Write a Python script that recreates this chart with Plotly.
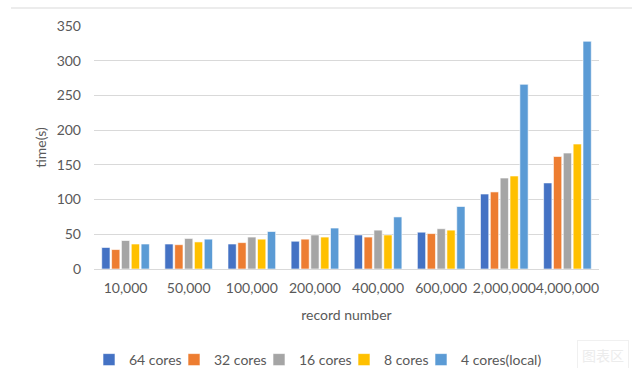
import plotly.graph_objects as go

# Record counts on the x axis
record_labels = ["10,000", "50,000", "100,000", "200,000", "400,000",
                 "600,000", "2,000,000", "4,000,000"]

# Run time in seconds for each cluster configuration
cores_64 = [31, 36, 36, 40, 49, 53, 108, 124]
cores_32 = [28, 35, 38, 43, 46, 51, 111, 162]
cores_16 = [41, 44, 46, 49, 56, 58, 131, 167]
cores_8 = [36, 39, 43, 46, 49, 56, 134, 180]
cores_4_local = [36, 43, 54, 59, 75, 90, 266, 328]

series_names = ["64 cores", "32 cores", "16 cores", "8 cores", "4 cores(local)"]
series_values = [cores_64, cores_32, cores_16, cores_8, cores_4_local]
series_colors = ["#4472C4", "#ED7D31", "#A5A5A5", "#FFC000", "#5B9BD5"]

y_ticks = [0, 50, 100, 150, 200, 250, 300, 350]

FONT = "Lato"
TEXT_GREY = "#595959"
GRID_GREY = "#d9d9d9"

W, H = 632, 368
ml, mr, mt, mb = 94, 33, 26, 99
pw = W - ml - mr
ph = H - mt - mb

def px_x(px):
    return (px - ml) / pw

def px_y(py):
    return (H - mb - py) / ph

# One legend box per series so the entries sit in a single compact row
legend_ids = ["legend", "legend2", "legend3", "legend4", "legend5"]
legend_left_px = [89, 174, 259, 344, 421]

fig = go.Figure()
for name, vals, col, lg in zip(series_names, series_values, series_colors, legend_ids):
    fig.add_trace(go.Bar(
        x=record_labels, y=vals, name=name, legend=lg,
        marker=dict(color=col, line=dict(color="rgba(255,255,255,0.6)", width=1)),
    ))

legend_layout = {}
for lg, left in zip(legend_ids, legend_left_px):
    legend_layout[lg] = dict(
        orientation="h", x=px_x(left), xanchor="left",
        y=px_y(360), yanchor="middle",
        font=dict(size=14, color=TEXT_GREY), itemwidth=30,
        bgcolor="rgba(0,0,0,0)",
    )

fig.update_layout(
    width=W, height=H,
    margin=dict(l=ml, r=mr, t=mt, b=mb, autoexpand=False),
    paper_bgcolor="white", plot_bgcolor="white",
    barmode="group", bargap=0.22, bargroupgap=0.16,
    font=dict(family=FONT, size=14, color=TEXT_GREY),
    xaxis=dict(
        type="category", showgrid=False, showline=True,
        linecolor=GRID_GREY, linewidth=1, ticks="",
        tickangle=0,
        tickfont=dict(size=14, color=TEXT_GREY),
        ticklabelstandoff=6,
        title=dict(text="record number", font=dict(size=14, color=TEXT_GREY), standoff=15),
    ),
    yaxis=dict(
        range=[0, 350], tickvals=y_ticks, showgrid=True,
        gridcolor=GRID_GREY, gridwidth=1, zeroline=False, showline=False,
        ticks="", tickfont=dict(size=14, color=TEXT_GREY),
        ticklabelstandoff=12,
        title=dict(text="time(s)", font=dict(size=14, color=TEXT_GREY), standoff=6),
    ),
    showlegend=True,
    **legend_layout,
)

# Thin border line across the top of the chart area
fig.add_shape(type="line", xref="paper", yref="paper",
              x0=px_x(11), x1=px_x(632), y0=px_y(8), y1=px_y(8),
              line=dict(color=GRID_GREY, width=1))

# Faint chart-area hint box in the lower right corner
fig.add_annotation(
    text="图表区", xref="paper", yref="paper",
    x=px_x(603), y=px_y(355), xanchor="center", yanchor="middle",
    showarrow=False,
    font=dict(family="Noto Sans CJK SC", size=14, color="#ececec"),
    bordercolor="#f0f0f0", borderwidth=1, borderpad=4, bgcolor="white",
)

fig.write_html("out.html")
